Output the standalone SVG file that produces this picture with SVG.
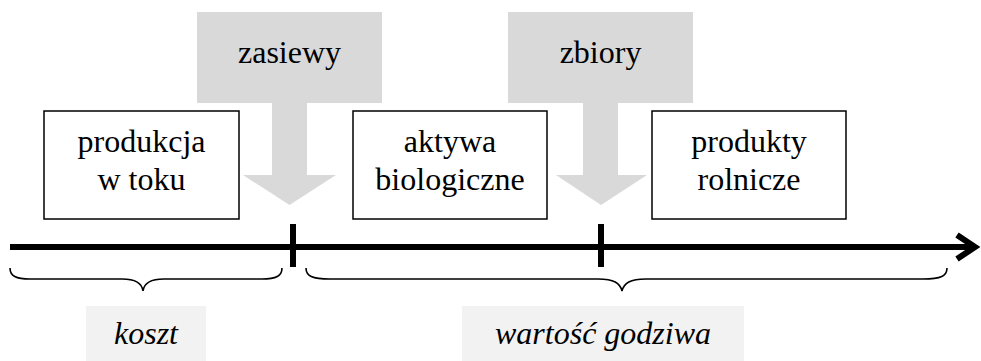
<svg xmlns="http://www.w3.org/2000/svg" width="981" height="361" viewBox="0 0 981 361">
  <style>
    .event { fill: #d9d9d9; }
    .box { fill: #ffffff; stroke: #000000; stroke-width: 1.5; }
    .label { fill: #f2f2f2; }
    .t { font-family: 'Liberation Serif', 'Times New Roman', serif; font-size: 32px; fill: #000000; text-anchor: middle; }
    .ti { font-style: italic; }
    .axis { stroke: #000000; stroke-width: 6; fill: none; }
    .brace { stroke: #000000; stroke-width: 1.6; fill: none; }
  </style>

  <!-- event arrows -->
  <g id="zasiewy">
    <path class="event" d="M197,12 H382 V103 H307 V175 H336 L289.5,205 L243,175 H272 V103 H197 Z"/>
    <text class="t" x="289.5" y="63">zasiewy</text>
  </g>
  <g id="zbiory">
    <path class="event" d="M508,12 H693 V103 H618 V175 H647 L601,205 L556,175 H583 V103 H508 Z"/>
    <text class="t" x="600.5" y="63">zbiory</text>
  </g>

  <!-- stage boxes -->
  <g id="produkcja-w-toku">
    <rect class="box" x="44" y="111" width="195" height="108"/>
    <text class="t" x="141.5" y="152">produkcja</text>
    <text class="t" x="141.5" y="190">w toku</text>
  </g>
  <g id="aktywa-biologiczne">
    <rect class="box" x="353" y="111" width="194" height="108"/>
    <text class="t" x="450" y="152">aktywa</text>
    <text class="t" x="450" y="190">biologiczne</text>
  </g>
  <g id="produkty-rolnicze">
    <rect class="box" x="652" y="111" width="194" height="108"/>
    <text class="t" x="749" y="152">produkty</text>
    <text class="t" x="749" y="190">rolnicze</text>
  </g>

  <!-- time axis, ticks and braces -->
  <g id="connectors">
    <line class="axis" x1="10" y1="247" x2="974" y2="247"/>
    <polyline class="axis" points="957,235 975,247 957,259" stroke-linejoin="miter"/>
    <line class="axis" x1="293" y1="224" x2="293" y2="267"/>
    <line class="axis" x1="601" y1="224" x2="601" y2="267"/>
    <path class="brace" d="M10,268 C10,276 16,279 30,279 L122,279 C136,279 142,283 143,291 C144,283 150,279 164,279 L262,279 C276,279 282,276 282,268"/>
    <path class="brace" d="M306,268 C306,276 312,279 330,279 L598,279 C614,279 620,283 622,291 C624,283 630,279 646,279 L923,279 C941,279 947,276 947,268"/>
  </g>

  <!-- valuation labels -->
  <g id="koszt">
    <rect class="label" x="86" y="306" width="120" height="55"/>
    <text class="t ti" x="146" y="344">koszt</text>
  </g>
  <g id="wartosc-godziwa">
    <rect class="label" x="462" y="306" width="282" height="55"/>
    <text class="t ti" x="603" y="344">wartość godziwa</text>
  </g>
</svg>
